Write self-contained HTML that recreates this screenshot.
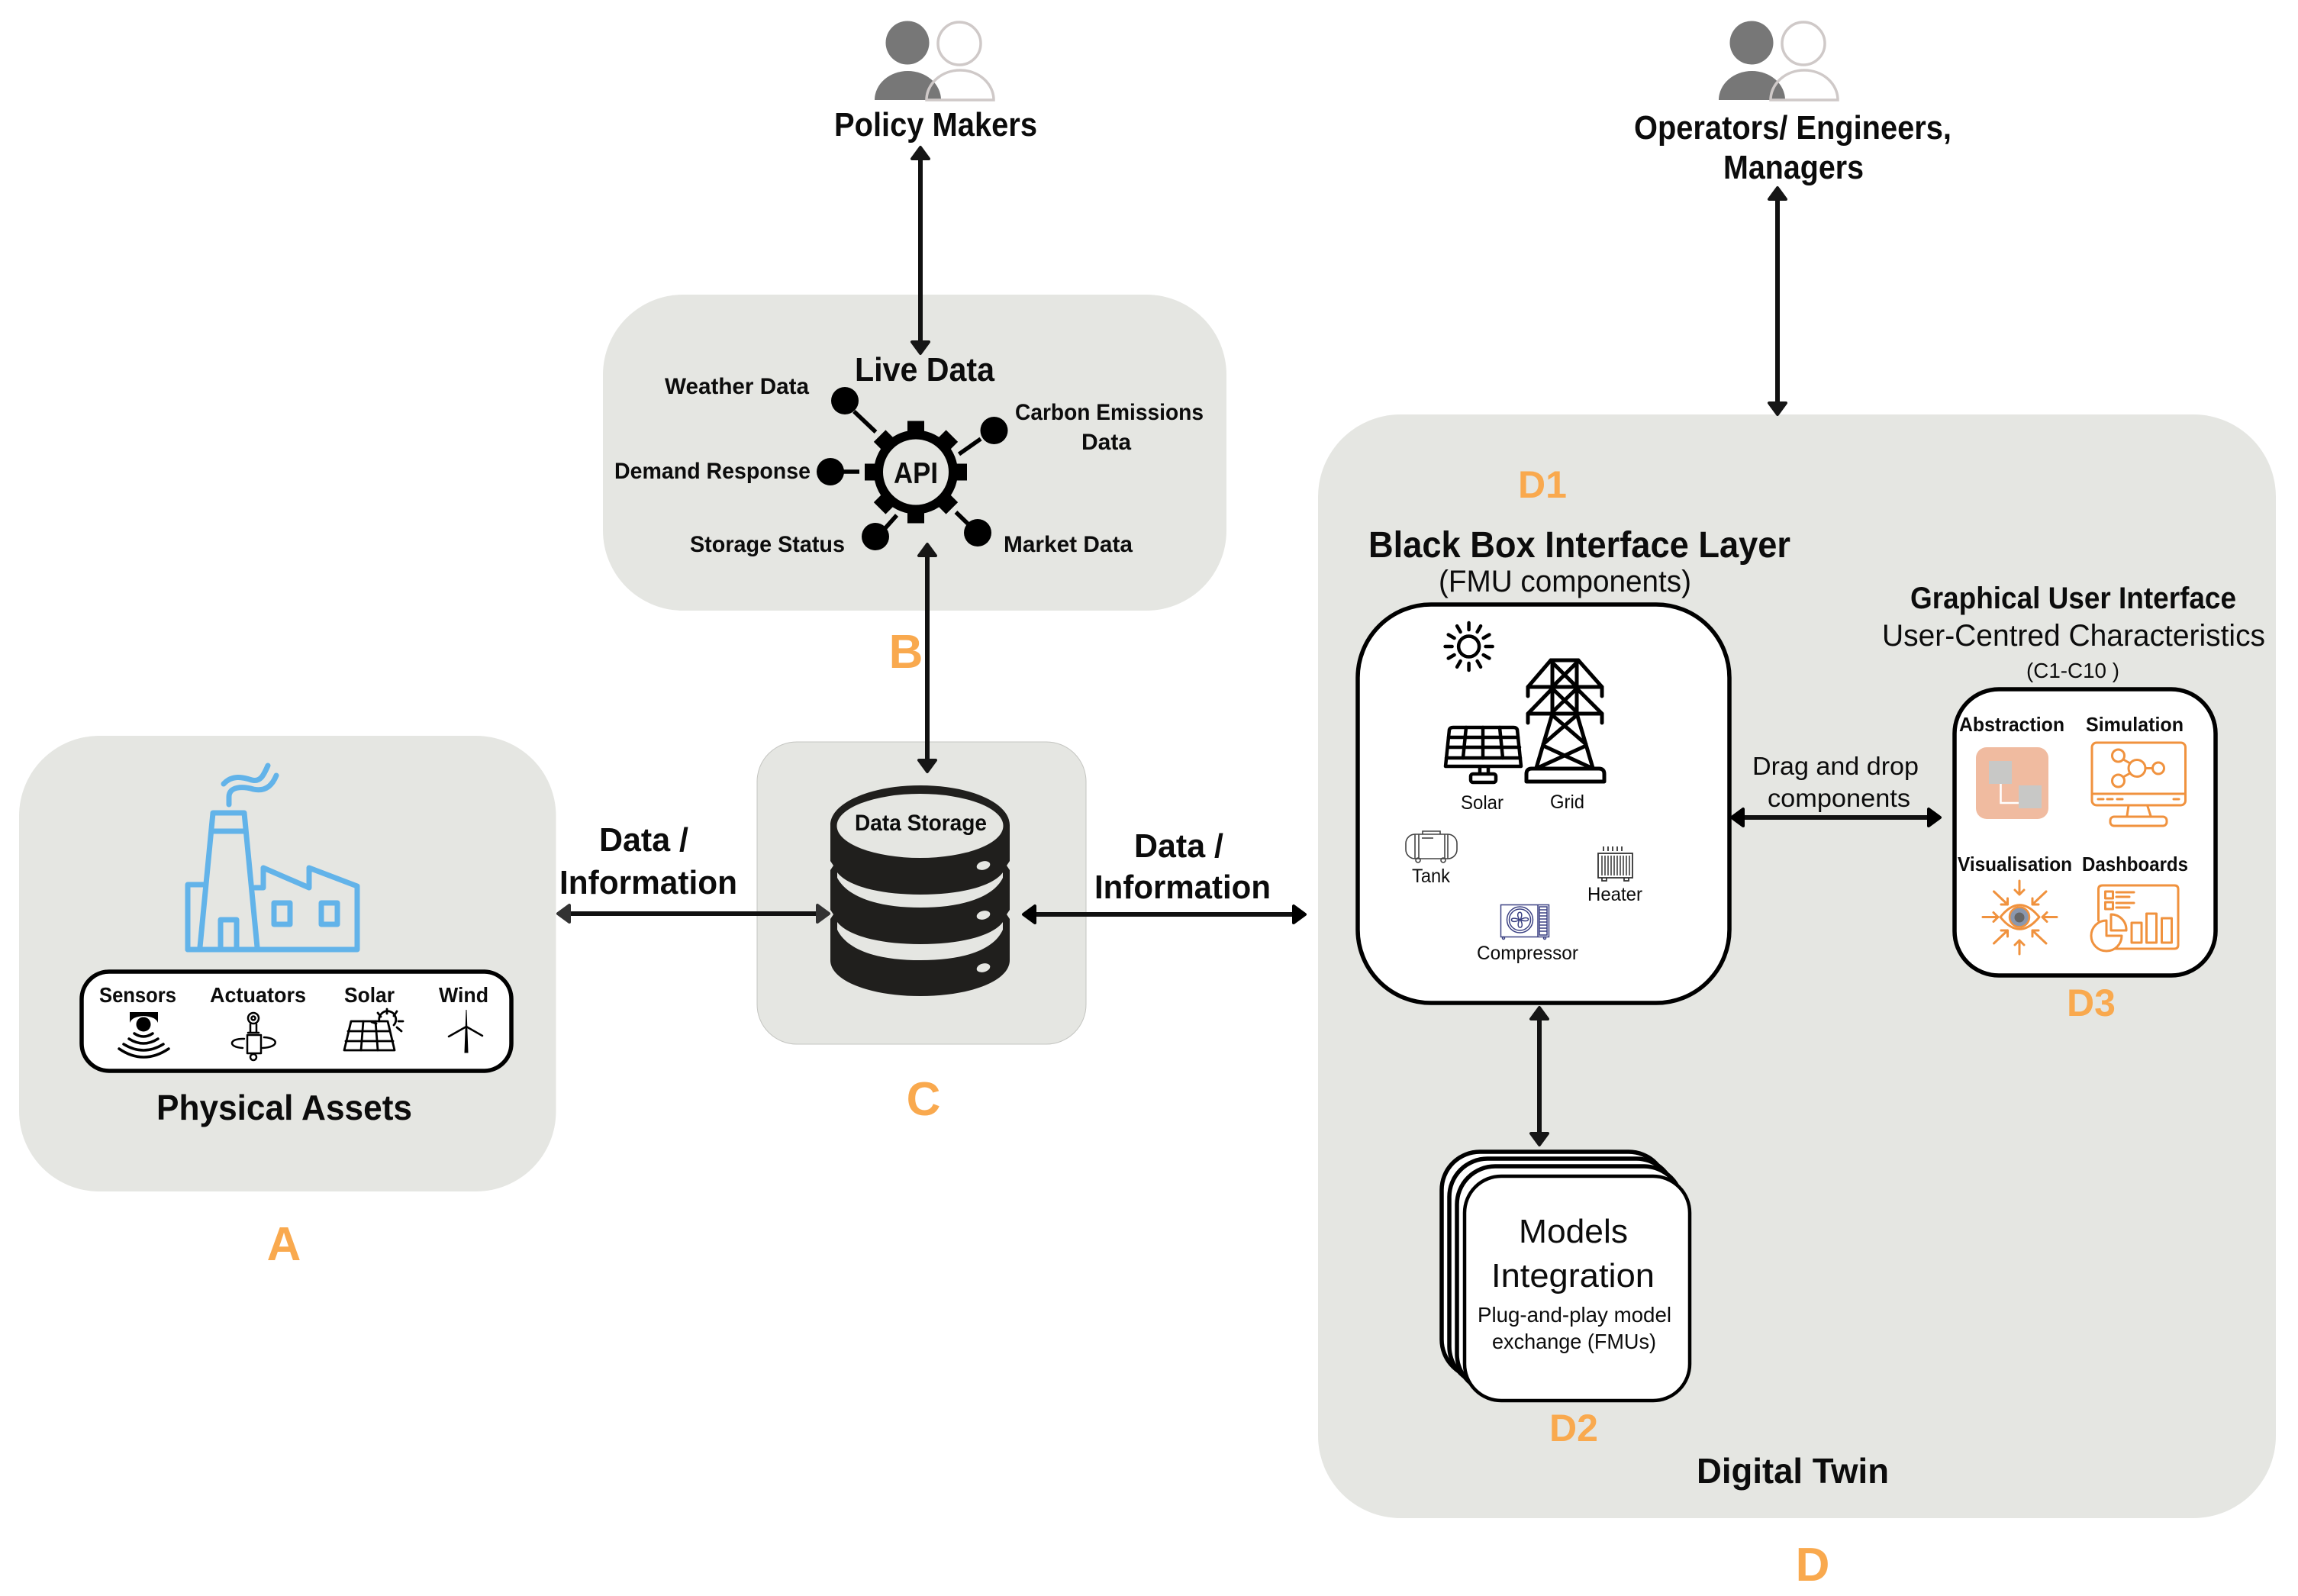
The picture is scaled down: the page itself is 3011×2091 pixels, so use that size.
<!DOCTYPE html>
<html lang="en">
<head>
<meta charset="utf-8">
<title>Digital Twin Architecture</title>
<style>
html,body{margin:0;padding:0;background:#fff;width:3011px;height:2091px;overflow:hidden}
svg{display:block}
text{font-family:"Liberation Sans",sans-serif;fill:#0c0c0c}
.b{font-weight:700}
.o{font-weight:700;fill:#f9a94e;text-anchor:middle}
.panel{fill:#e5e6e2}
.ln{stroke:#111;stroke-width:6;fill:none}
.ic{fill:none;stroke:#000;stroke-linecap:round;stroke-linejoin:round}
.or{fill:none;stroke:#f0923e;stroke-width:3;stroke-linecap:round;stroke-linejoin:round}
.bl{fill:none;stroke:#62b3e9;stroke-width:7;stroke-linejoin:round;stroke-linecap:round}
.head{stroke-linejoin:round;stroke-width:4}
</style>
</head>
<body>
<svg xmlns="http://www.w3.org/2000/svg" width="3011" height="2091" viewBox="0 0 3011 2091">
<rect width="3011" height="2091" fill="#fff"/>

<!-- Panels -->
<rect class="panel" x="25" y="964" width="703.500" height="597" rx="105"/>
<rect class="panel" x="790" y="386" width="817" height="414" rx="105"/>
<rect class="panel" x="992" y="972" width="431" height="396" rx="52" stroke="#c4c5c1" stroke-width="1"/>
<rect class="panel" x="1727" y="543" width="1255" height="1446" rx="108"/>

<!-- People: policy makers -->
<g>
<circle cx="1189" cy="56" r="28.500" fill="#777"/>
<path d="M1146 131 A43.500 38 0 0 1 1233 131 Z" fill="#777"/>
<circle cx="1257" cy="57" r="28" fill="none" stroke="#cfc9c8" stroke-width="3.500"/>
<path d="M1214 131 A44 39 0 0 1 1302 131 Z" fill="none" stroke="#cfc9c8" stroke-width="3.500"/>
</g>
<text class="b" x="1093" y="178" font-size="44" textLength="266" lengthAdjust="spacingAndGlyphs">Policy Makers</text>

<!-- People: operators -->
<g transform="translate(1106,0)">
<circle cx="1189" cy="56" r="28.500" fill="#777"/>
<path d="M1146 131 A43.500 38 0 0 1 1233 131 Z" fill="#777"/>
<circle cx="1257" cy="57" r="28" fill="none" stroke="#cfc9c8" stroke-width="3.500"/>
<path d="M1214 131 A44 39 0 0 1 1302 131 Z" fill="none" stroke="#cfc9c8" stroke-width="3.500"/>
</g>
<text class="b" x="2141" y="182" font-size="44" textLength="416" lengthAdjust="spacingAndGlyphs">Operators/ Engineers,</text>
<text class="b" x="2258" y="234" font-size="44" textLength="184" lengthAdjust="spacingAndGlyphs">Managers</text>

<!-- Arrows -->
<g fill="#161616" stroke="#161616">
<path class="ln" d="M1206 205V450" stroke="#161616"/>
<path class="head" d="M1206 193L1195 208H1217Z"/>
<path class="head" d="M1206 463L1195 448H1217Z"/>

<path class="ln" d="M2329 258V530" stroke="#161616"/>
<path class="head" d="M2329 246L2318 261H2340Z"/>
<path class="head" d="M2329 543L2318 528H2340Z"/>

<path class="ln" d="M1215 725V1000" stroke="#161616"/>
<path class="head" d="M1215 713L1204 728H1226Z"/>
<path class="head" d="M1215 1011L1204 996H1226Z"/>

<path class="ln" d="M2017 1332V1488" stroke="#161616"/>
<path class="head" d="M2017 1320L2006 1335H2028Z"/>
<path class="head" d="M2017 1500L2006 1485H2028Z"/>
</g>
<g fill="#333" stroke="#333">
<path class="ln" d="M745 1197H1072" stroke="#333"/>
<path class="head" d="M731 1197L746 1186V1208Z"/>
<path class="head" d="M1086 1197L1071 1186V1208Z"/>
</g>
<g fill="#000" stroke="#000">
<path class="ln" d="M1354 1198H1696" stroke="#000"/>
<path class="head" d="M1341 1198L1356 1187V1209Z"/>
<path class="head" d="M1710 1198L1695 1187V1209Z"/>
<path class="ln" d="M2282 1071H2530" stroke="#000"/>
<path class="head" d="M2269 1071L2284 1060V1082Z"/>
<path class="head" d="M2542 1071L2527 1060V1082Z"/>
</g>

<!-- A: factory -->
<g class="bl">
<path d="M262 1241L279 1065H320L337 1241"/>
<path d="M279 1089H320"/>
<path d="M246 1244V1159H268"/>
<path d="M246 1244H468V1161L405 1137V1163L345 1137V1163H334"/>
<path d="M289 1242V1205H310V1242"/>
<rect x="359" y="1183" width="21" height="28"/>
<rect x="421" y="1183" width="21" height="28"/>
<path d="M300 1054V1044C300 1030 318 1030 332 1034C350 1038 358 1026 362 1016"/>
<path d="M293 1027C304 1015 318 1018 330 1022C342 1025 346 1014 351 1003"/>
</g>

<!-- A: assets -->
<rect x="107" y="1273" width="563" height="130" rx="36" fill="#fff" stroke="#000" stroke-width="5.500"/>
<text class="b" x="130" y="1313" font-size="28" textLength="101" lengthAdjust="spacingAndGlyphs">Sensors</text>
<text class="b" x="275" y="1313" font-size="28" textLength="126" lengthAdjust="spacingAndGlyphs">Actuators</text>
<text class="b" x="451" y="1313" font-size="28" textLength="66" lengthAdjust="spacingAndGlyphs">Solar</text>
<text class="b" x="575" y="1313" font-size="28" textLength="65" lengthAdjust="spacingAndGlyphs">Wind</text>

<!-- sensor icon -->
<path d="M170 1326H207V1340Q204 1332 188 1331Q173 1332 170 1340Z" fill="#000"/>
<circle cx="188" cy="1342" r="9.500" fill="#000"/>
<g class="ic" stroke-width="3.500">
<path d="M176 1354Q188 1362 200 1354"/>
<path d="M169 1361Q188 1373 207 1361"/>
<path d="M162 1368Q188 1384 214 1368"/>
<path d="M156 1374Q188 1396 221 1374"/>
</g>
<!-- actuator icon -->
<g class="ic" stroke-width="2.500">
<circle cx="332" cy="1334" r="7"/>
<circle cx="332" cy="1334" r="2.500"/>
<path d="M328 1342V1352M336 1342V1352M325 1353H339"/>
<rect x="324" y="1356" width="18" height="24" fill="#fff"/>
<circle cx="332" cy="1385" r="4"/>
<path d="M320 1361C300 1360 298 1372 318 1373M344 1373C366 1372 366 1360 346 1359"/>
</g>
<!-- small solar -->
<g class="ic" stroke-width="2.800">
<path d="M460 1338H508L517 1376H451Z"/>
<path d="M456 1351H511M453 1364H515M476 1338L473 1376M492 1338L495 1376"/>
<path d="M497 1338A11 11 0 1 1 516 1343"/>
<path d="M507 1322V1328M520 1325L516 1331M528 1338H522M526 1351L520 1346M495 1327L499 1332M487 1339L493 1341"/>
</g>
<!-- wind -->
<path d="M609 1379L611 1323L613 1379Z" fill="#000" stroke="#000" stroke-width="1"/>
<path class="ic" stroke-width="2.500" d="M611 1345L588 1358M611 1345L632 1357"/>

<text class="b" x="205" y="1467" font-size="46" textLength="335" lengthAdjust="spacingAndGlyphs">Physical Assets</text>
<text class="o" x="372" y="1651" font-size="62">A</text>

<!-- B: API -->
<text class="b" x="1120" y="499" font-size="44" textLength="183" lengthAdjust="spacingAndGlyphs">Live Data</text>
<text class="b" x="871" y="516" font-size="30" textLength="189" lengthAdjust="spacingAndGlyphs">Weather Data</text>
<text class="b" x="1330" y="550" font-size="30" textLength="247" lengthAdjust="spacingAndGlyphs">Carbon Emissions</text>
<text class="b" x="1417" y="589" font-size="30" textLength="65" lengthAdjust="spacingAndGlyphs">Data</text>
<text class="b" x="805" y="627" font-size="30" textLength="257" lengthAdjust="spacingAndGlyphs">Demand Response</text>
<text class="b" x="904" y="723" font-size="30" textLength="203" lengthAdjust="spacingAndGlyphs">Storage Status</text>
<text class="b" x="1315" y="723" font-size="30" textLength="169" lengthAdjust="spacingAndGlyphs">Market Data</text>

<g transform="translate(1200,618.500)" fill="#000">
<circle r="49" fill="none" stroke="#000" stroke-width="12"/>
<rect x="-11" y="-67" width="22" height="17"/>
<rect x="-11" y="-67" width="22" height="17" transform="rotate(45)"/>
<rect x="-11" y="-67" width="22" height="17" transform="rotate(90)"/>
<rect x="-11" y="-67" width="22" height="17" transform="rotate(135)"/>
<rect x="-11" y="-67" width="22" height="17" transform="rotate(180)"/>
<rect x="-11" y="-67" width="22" height="17" transform="rotate(225)"/>
<rect x="-11" y="-67" width="22" height="17" transform="rotate(270)"/>
<rect x="-11" y="-67" width="22" height="17" transform="rotate(315)"/>
</g>
<text class="b" x="1171" y="633" font-size="39" textLength="58" lengthAdjust="spacingAndGlyphs">API</text>
<g fill="#000">
<circle cx="1107" cy="525" r="18"/>
<circle cx="1302.500" cy="564" r="18"/>
<circle cx="1088" cy="618" r="18"/>
<circle cx="1147" cy="703" r="18"/>
<circle cx="1281" cy="698" r="18"/>
</g>
<path d="M1119 539L1147.500 566M1285 575L1256.500 595M1104 618H1126M1159 693L1175 675M1268 686L1252.500 671" stroke="#000" stroke-width="5.500" fill="none"/>
<text class="o" x="1187" y="875" font-size="62">B</text>

<!-- C: database -->
<path d="M1088 1081C1088 1052 1140 1029 1206 1029C1272 1029 1323 1052 1323 1081V1128L1319 1134L1323 1140V1192L1319 1198L1323 1204V1258C1323 1285 1272 1305 1206 1305C1140 1305 1088 1285 1088 1258V1204L1092 1198L1088 1192V1140L1092 1134L1088 1128Z" fill="#201f1d"/>
<ellipse cx="1205.500" cy="1082" rx="109" ry="42" fill="#e5e6e2"/>
<path d="M1097 1143C1110 1160 1150 1172 1206 1172C1262 1172 1302 1160 1314 1143V1150C1302 1175 1262 1189 1206 1189C1150 1189 1110 1175 1097 1150Z" fill="#e5e6e2"/>
<path d="M1097 1208C1110 1225 1150 1237 1206 1237C1262 1237 1302 1225 1314 1208V1218C1302 1245 1262 1258 1206 1258C1150 1258 1110 1245 1097 1218Z" fill="#e5e6e2"/>
<g fill="#e5e6e2">
<ellipse cx="1288.500" cy="1134" rx="9" ry="5.500" transform="rotate(-15 1288.500 1134)"/>
<ellipse cx="1288.500" cy="1199" rx="9" ry="5.500" transform="rotate(-15 1288.500 1199)"/>
<ellipse cx="1288.500" cy="1268" rx="9" ry="5.500" transform="rotate(-15 1288.500 1268)"/>
</g>
<text class="b" x="1120" y="1088" font-size="30" textLength="173" lengthAdjust="spacingAndGlyphs">Data Storage</text>
<text class="o" x="1210" y="1461" font-size="62">C</text>

<!-- Data / Information -->
<text class="b" x="785" y="1115" font-size="44" textLength="117" lengthAdjust="spacingAndGlyphs">Data /</text>
<text class="b" x="733" y="1171" font-size="44" textLength="233" lengthAdjust="spacingAndGlyphs">Information</text>
<text class="b" x="1486" y="1123" font-size="44" textLength="117" lengthAdjust="spacingAndGlyphs">Data /</text>
<text class="b" x="1434" y="1177" font-size="44" textLength="231" lengthAdjust="spacingAndGlyphs">Information</text>

<!-- D1 -->
<text class="o" x="2021" y="652" font-size="50">D1</text>
<text class="b" x="1793" y="730" font-size="48" textLength="553" lengthAdjust="spacingAndGlyphs">Black Box Interface Layer</text>
<text x="1885" y="775" font-size="40" textLength="331" lengthAdjust="spacingAndGlyphs">(FMU components)</text>

<rect x="1779" y="792" width="487" height="522" rx="96" fill="#fff" stroke="#000" stroke-width="5.500"/>

<!-- sun -->
<g transform="translate(1924.600,847)" stroke="#000" stroke-width="4.500" fill="none" stroke-linecap="round">
<circle r="13.500"/>
<path d="M0 -22V-31"/>
<path d="M0 -22V-31" transform="rotate(30)"/>
<path d="M0 -22V-31" transform="rotate(60)"/>
<path d="M0 -22V-31" transform="rotate(90)"/>
<path d="M0 -22V-31" transform="rotate(120)"/>
<path d="M0 -22V-31" transform="rotate(150)"/>
<path d="M0 -22V-31" transform="rotate(180)"/>
<path d="M0 -22V-31" transform="rotate(210)"/>
<path d="M0 -22V-31" transform="rotate(240)"/>
<path d="M0 -22V-31" transform="rotate(270)"/>
<path d="M0 -22V-31" transform="rotate(300)"/>
<path d="M0 -22V-31" transform="rotate(330)"/>
</g>

<!-- tower -->
<g class="ic" stroke-width="5">
<path d="M2032 865H2068"/>
<path d="M2032 865L2002 900H2099L2068 865"/>
<path d="M2002 900V912M2099 900V912"/>
<path d="M2034 865V935M2066 865V935"/>
<path d="M2034 868L2066 900M2066 868L2034 900"/>
<path d="M2034 902L2066 933M2066 902L2034 933"/>
<path d="M2034 902L2002 935H2099L2066 902"/>
<path d="M2002 935V947M2099 935V947"/>
<path d="M2034 935L2013 1006M2066 935L2087 1006"/>
<path d="M2034 937L2078 975M2066 937L2022 975"/>
<path d="M2022 977L2083 1005M2078 977L2017 1005"/>
</g>
<path d="M2000 1024V1014Q2000 1007 2007 1007H2095Q2102 1007 2102 1014V1024Z" fill="#fff" stroke="#000" stroke-width="5" stroke-linejoin="round"/>

<!-- solar panel -->
<g class="ic" stroke-width="4.500">
<path d="M1899 956Q1900 953 1904 953H1983Q1987 953 1988 956L1993 1004H1894Z"/>
<path d="M1898 966H1989M1897 979H1991M1895 993H1992"/>
<path d="M1921 953L1917 993M1943 953V993M1965 953L1969 993"/>
<path d="M1939 1005V1013M1950 1005V1013"/>
<rect x="1927" y="1014" width="33" height="11" rx="3"/>
</g>

<text x="1914" y="1060" font-size="25" textLength="56" lengthAdjust="spacingAndGlyphs">Solar</text>
<text x="2031" y="1059" font-size="25" textLength="45" lengthAdjust="spacingAndGlyphs">Grid</text>
<text x="1850" y="1156" font-size="25" textLength="50" lengthAdjust="spacingAndGlyphs">Tank</text>
<text x="2080" y="1180" font-size="25" textLength="72" lengthAdjust="spacingAndGlyphs">Heater</text>
<text x="1935" y="1257" font-size="25" textLength="133" lengthAdjust="spacingAndGlyphs">Compressor</text>

<!-- tank -->
<g fill="none" stroke="#444" stroke-width="1.600">
<rect x="1842" y="1093" width="67" height="32" rx="12"/>
<path d="M1864 1093V1089H1887V1093"/>
<path d="M1854 1093V1125M1859 1093V1125M1893 1093V1125M1897 1093V1125"/>
<path d="M1863 1098H1878"/>
<circle cx="1858" cy="1127" r="3"/>
<circle cx="1891" cy="1127" r="3"/>
</g>

<!-- heater -->
<g fill="none" stroke="#333" stroke-width="1.800">
<rect x="2094" y="1118" width="45" height="32"/>
<path d="M2099 1121V1147M2103 1121V1147M2107 1121V1147M2111 1121V1147M2115 1121V1147M2119 1121V1147M2123 1121V1147M2127 1121V1147M2131 1121V1147M2135 1121V1147" stroke-width="1.500"/>
<path d="M2101 1109V1115M2107 1109V1115M2113 1109V1115M2119 1109V1115M2125 1109V1115"/>
<path d="M2099 1150V1154H2105V1150M2128 1150V1154H2134V1150"/>
</g>

<!-- compressor -->
<g fill="none" stroke="#3b4183" stroke-width="1.500">
<rect x="1966.500" y="1185.500" width="63" height="42"/>
<path d="M2015 1185.500V1227.500"/>
<rect x="2017" y="1188" width="10" height="37"/>
<path d="M2017 1192H2027M2017 1196H2027M2017 1200H2027M2017 1204H2027M2017 1208H2027M2017 1212H2027M2017 1216H2027M2017 1220H2027"/>
<circle cx="1991.500" cy="1205" r="17"/>
<circle cx="1991.500" cy="1205" r="14"/>
<path d="M1991 1205C1983 1193 1999 1191 1992 1205C2005 1197 2007 1211 1992 1205C2000 1218 1984 1219 1991 1205C1978 1213 1976 1198 1991 1205Z"/>
<circle cx="1970" cy="1229" r="1.500"/>
<circle cx="2024" cy="1229" r="1.500"/>
</g>

<!-- D2 stack -->
<g fill="#fff" stroke="#000" stroke-width="5.500">
<rect x="1889" y="1509" width="295" height="296" rx="50"/>
<rect x="1899" y="1518" width="295" height="296" rx="50"/>
<rect x="1909" y="1528" width="295" height="296" rx="50"/>
<rect x="1919" y="1541" width="295" height="294" rx="48" stroke-width="4.500"/>
</g>
<text x="1990" y="1628" font-size="44" textLength="143" lengthAdjust="spacingAndGlyphs">Models</text>
<text x="1954" y="1686" font-size="44" textLength="214" lengthAdjust="spacingAndGlyphs">Integration</text>
<text x="1936" y="1732" font-size="28" textLength="254" lengthAdjust="spacingAndGlyphs">Plug-and-play model</text>
<text x="1955" y="1767" font-size="28" textLength="215" lengthAdjust="spacingAndGlyphs">exchange (FMUs)</text>
<text class="o" x="2062" y="1888" font-size="50">D2</text>

<text class="b" x="2223" y="1943" font-size="46" textLength="252" lengthAdjust="spacingAndGlyphs">Digital Twin</text>
<text class="o" x="2375" y="2071" font-size="62">D</text>

<!-- GUI -->
<text class="b" x="2503" y="797" font-size="40" textLength="427" lengthAdjust="spacingAndGlyphs">Graphical User Interface</text>
<text x="2466" y="846" font-size="40" textLength="502" lengthAdjust="spacingAndGlyphs">User-Centred Characteristics</text>
<text x="2655" y="888" font-size="28" textLength="122" lengthAdjust="spacingAndGlyphs">(C1-C10 )</text>
<text x="2296" y="1015" font-size="33" textLength="218" lengthAdjust="spacingAndGlyphs">Drag and drop</text>
<text x="2316" y="1057" font-size="33" textLength="187" lengthAdjust="spacingAndGlyphs">components</text>

<rect x="2561" y="903" width="342" height="375" rx="58" fill="#fff" stroke="#000" stroke-width="5.500"/>

<text class="b" x="2567" y="958" font-size="26" textLength="138" lengthAdjust="spacingAndGlyphs">Abstraction</text>
<text class="b" x="2733" y="958" font-size="26" textLength="128" lengthAdjust="spacingAndGlyphs">Simulation</text>
<text class="b" x="2565" y="1141" font-size="26" textLength="150" lengthAdjust="spacingAndGlyphs">Visualisation</text>
<text class="b" x="2728" y="1141" font-size="26" textLength="139" lengthAdjust="spacingAndGlyphs">Dashboards</text>

<!-- abstraction icon -->
<rect x="2589" y="979" width="95" height="94" rx="14" fill="#f0bba0"/>
<path d="M2621.500 1027V1052H2645" fill="none" stroke="#fff" stroke-width="2.500"/>
<rect x="2606" y="997" width="30" height="30" fill="#c8c8c6"/>
<rect x="2645" y="1029" width="30" height="30" fill="#c8c8c6"/>

<!-- simulation icon -->
<g class="or">
<rect x="2741" y="973" width="122.500" height="82" rx="6"/>
<path d="M2741 1040H2863.500"/>
<path d="M2749 1047H2756M2761 1047H2768M2774 1047H2781M2848 1047H2855"/>
<path d="M2789 1055L2787 1069M2813.500 1055L2818 1069"/>
<rect x="2765" y="1070" width="74" height="12" rx="5"/>
<circle cx="2800" cy="1006.500" r="11"/>
<circle cx="2775.500" cy="990" r="8"/>
<circle cx="2775.500" cy="1023" r="8"/>
<circle cx="2828" cy="1006.500" r="7.500"/>
<path d="M2782 995L2791 1000M2782 1018L2791 1013M2811 1006.500H2820"/>
</g>

<!-- visualisation icon -->
<circle cx="2646" cy="1201.500" r="13" fill="#8a97ad" stroke="#f0923e" stroke-width="2.500"/>
<circle cx="2646" cy="1202" r="6.500" fill="#666"/>
<g class="or" stroke-width="2.500">
<path d="M2621 1201.500Q2646 1170 2672 1201.500Q2646 1233 2621 1201.500Z"/>
<path d="M2646 1154V1172M2640 1166L2646 1172L2652 1166"/>
<path d="M2646 1250V1232M2640 1238L2646 1232L2652 1238"/>
<path d="M2598 1201.500H2618M2612 1195.500L2618 1201.500L2612 1207.500"/>
<path d="M2695 1201.500H2676M2682 1195.500L2676 1201.500L2682 1207.500"/>
<path d="M2612.500 1168L2630.500 1185M2622 1185H2630.500V1177"/>
<path d="M2681 1168L2663 1185M2671 1185H2663V1177"/>
<path d="M2612.500 1236L2630.500 1219M2622 1219H2630.500V1227"/>
<path d="M2681 1236L2663 1219M2671 1219H2663V1227"/>
</g>

<!-- dashboards icon -->
<g class="or">
<path d="M2749.500 1206V1165Q2749.500 1160 2755 1160H2849Q2854 1160 2854 1165V1238Q2854 1243 2849 1243H2770"/>
<rect x="2758.500" y="1168" width="10" height="9"/>
<rect x="2758.500" y="1182" width="10" height="9"/>
<path d="M2773 1169H2796M2773 1175H2790M2773 1183H2796M2773 1189H2790"/>
<rect x="2793" y="1209" width="13" height="26"/>
<rect x="2812.500" y="1197" width="13" height="38"/>
<rect x="2832.500" y="1203" width="13" height="32"/>
<path d="M2760 1206A20 20 0 1 0 2780 1226H2760Z" fill="#fff"/>
<path d="M2766 1198A20 20 0 0 1 2786 1219H2766Z" fill="#fff"/>
</g>

<text class="o" x="2740" y="1331" font-size="50">D3</text>
</svg>
</body>
</html>
